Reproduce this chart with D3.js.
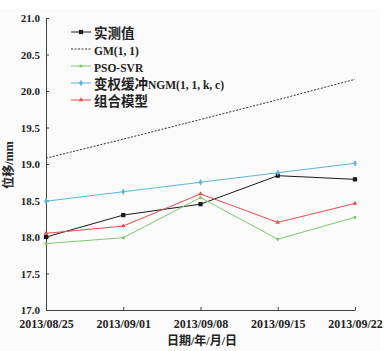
<!DOCTYPE html>
<html>
<head>
<meta charset="utf-8">
<script src="https://cdn.jsdelivr.net/npm/d3@7"></script>
<style>
  body { margin: 0; background: #fff; }
  text { font-family: "Liberation Serif", "Noto Sans CJK SC", serif; }
</style>
</head>
<body>
<svg id="chart" width="388" height="351"></svg>
<script>
const dates = ["2013/08/25", "2013/09/01", "2013/09/08", "2013/09/15", "2013/09/22"]
const measured = [18.00, 18.30, 18.45, 18.84, 18.79]
const gm = [19.08, 19.34, 19.61, 19.88, 20.16]
const psoSvr = [17.91, 17.99, 18.54, 17.97, 18.27]
const ngm = [18.49, 18.62, 18.75, 18.88, 19.01]
const combo = [18.05, 18.15, 18.59, 18.20, 18.46]
const yTicks = [17.0, 17.5, 18.0, 18.5, 19.0, 19.5, 20.0, 20.5, 21.0]

const series = [
  {name: "实测值", values: measured, color: "#1a1a1a", dash: null, symbol: d3.symbolSquare, size: 18},
  {name: "GM(1, 1)", values: gm, color: "#333", dash: "2,1.5", symbol: null},
  {name: "PSO-SVR", values: psoSvr, color: "#7ccc66", dash: null, symbol: d3.symbolCircle, size: 8},
  {name: "变权缓冲NGM(1, 1, k, c)", values: ngm, color: "#5ab4e2", dash: null, symbol: d3.symbolDiamond, size: 12},
  {name: "组合模型", values: combo, color: "#f04848", dash: null, symbol: d3.symbolTriangle, size: 9}
]

const margin = {top: 18, right: 33, bottom: 41, left: 46}
const width = 388 - margin.left - margin.right
const height = 351 - margin.top - margin.bottom

const svg = d3.select('#chart')

svg.append('rect')
  .attr('x', 0).attr('y', 9)
  .attr('width', 380).attr('height', 342)
  .attr('fill', '#fbfbfb')

const chart = svg.append('g')
  .attr('transform', `translate(${margin.left}, ${margin.top})`)

const x = d3.scalePoint()
  .domain(dates)
  .range([0, width])

const y = d3.scaleLinear()
  .domain([17, 21])
  .range([height, 0])

const yAxis = chart.append('g')
  .call(d3.axisLeft(y).tickValues(yTicks).tickFormat(d3.format('.1f'))
    .tickSizeInner(-3).tickSizeOuter(0).tickPadding(6))
yAxis.select('.domain').attr('stroke', '#444')
yAxis.selectAll('.tick line').attr('stroke', '#444')
yAxis.selectAll('text').attr('font-size', 11).attr('font-weight', 'bold').attr('fill', '#222')

const xAxis = chart.append('g')
  .attr('transform', `translate(0, ${height})`)
  .call(d3.axisBottom(x).tickSizeInner(-3).tickSizeOuter(0).tickPadding(9))
xAxis.select('.domain').attr('stroke', '#444')
xAxis.selectAll('.tick line').attr('stroke', '#444')
xAxis.selectAll('text').attr('font-size', 12).attr('font-weight', 'bold').attr('fill', '#222')

const line = d3.line()
  .x((d, i) => x(dates[i]))
  .y(d => y(d))

series.forEach(s => {
  chart.append('path')
    .datum(s.values)
    .attr('d', line)
    .attr('fill', 'none')
    .attr('stroke', s.color)
    .attr('stroke-width', 1)
    .attr('stroke-dasharray', s.dash)
  if (s.symbol) {
    chart.append('g')
      .selectAll('path')
      .data(s.values)
      .join('path')
        .attr('transform', (d, i) => `translate(${x(dates[i])}, ${y(d)})`)
        .attr('d', d3.symbol(s.symbol, s.size))
        .attr('fill', s.color)
  }
})

// legend: CJK runs slightly bigger than latin runs, like the original
const legend = svg.append('g')
  .attr('transform', 'translate(71, 32)')

series.forEach((s, i) => {
  const row = legend.append('g').attr('transform', `translate(0, ${i * 17})`)
  row.append('line')
    .attr('x1', 0).attr('x2', 20)
    .attr('stroke', s.color)
    .attr('stroke-width', 1)
    .attr('stroke-dasharray', s.dash)
  if (s.symbol) {
    row.append('path')
      .attr('transform', 'translate(10, 0)')
      .attr('d', d3.symbol(s.symbol, s.size))
      .attr('fill', s.color)
  }
  const t = row.append('text')
    .attr('x', 23)
    .attr('dy', '0.35em')
    .attr('font-weight', 'bold')
    .attr('fill', '#222')
  s.name.match(/[\u4e00-\u9fff]+|[^\u4e00-\u9fff]+/g).forEach(part => {
    t.append('tspan')
      .attr('font-size', /[\u4e00-\u9fff]/.test(part) ? 13.5 : 11.5)
      .text(part)
  })
})

svg.append('text')
  .attr('transform', `translate(13, 165) rotate(-90)`)
  .attr('text-anchor', 'middle')
  .attr('font-size', 12)
  .attr('font-weight', 'bold')
  .attr('fill', '#222')
  .text('位移/mm')

svg.append('text')
  .attr('x', 202)
  .attr('y', 345)
  .attr('text-anchor', 'middle')
  .attr('font-size', 12)
  .attr('font-weight', 'bold')
  .attr('fill', '#222')
  .text('日期/年/月/日')
</script>
</body>
</html>
